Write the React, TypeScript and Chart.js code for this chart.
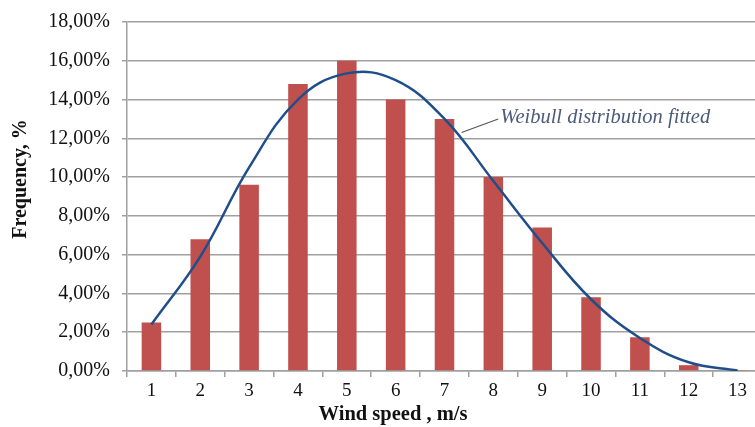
import React, { useEffect, useRef } from "react";
import { Chart, registerables } from "chart.js";

Chart.register(...registerables);

const categories = ["1", "2", "3", "4", "5", "6", "7", "8", "9", "10", "11", "12", "13"];
const frequencyBars = [2.5, 6.8, 9.6, 14.8, 16.0, 14.0, 13.0, 10.0, 7.4, 3.8, 1.74, 0.3, 0.05];
const weibullFit = [2.4, 5.9, 10.5, 14.0, 15.35, 15.0, 13.0, 9.8, 6.6, 3.7, 1.7, 0.45, 0.03];
const yTicksMax = 18;
const yStep = 2;
const annotationText = "Weibull distribution fitted";
const xTitle = "Wind speed , m/s";
const yTitle = "Frequency, %";

const FONT = "'Liberation Serif', 'Times New Roman', serif";

const overlayPlugin = {
  id: "overlay",
  afterDraw(chart: any) {
    const ctx = chart.ctx as CanvasRenderingContext2D;
    const x = chart.scales.x;
    const y = chart.scales.y;
    ctx.save();
    // leader line
    ctx.strokeStyle = "#555555";
    ctx.lineWidth = 1.2;
    ctx.beginPath();
    ctx.moveTo(x.getPixelForValue(6.35), y.getPixelForValue(12.3));
    ctx.lineTo(x.getPixelForValue(7.1), y.getPixelForValue(13.0));
    ctx.stroke();
    // annotation text
    ctx.fillStyle = "#4d5a7c";
    ctx.font = `italic 20.5px ${FONT}`;
    ctx.textBaseline = "middle";
    ctx.textAlign = "left";
    ctx.fillText(annotationText, x.getPixelForValue(7.14), y.getPixelForValue(13.05));
    // axis titles
    ctx.fillStyle = "#111111";
    ctx.font = `bold 20.5px ${FONT}`;
    ctx.textAlign = "center";
    ctx.fillText(xTitle, 393, 415);
    ctx.font = `bold 20px ${FONT}`;
    ctx.translate(21, 179);
    ctx.rotate(-Math.PI / 2);
    ctx.fillText(yTitle, 0, 0);
    ctx.restore();
  },
};

export default function App() {
  const ref = useRef<HTMLCanvasElement | null>(null);
  useEffect(() => {
    if (!ref.current) return;
    const chart = new Chart(ref.current, {
      type: "bar",
      data: {
        labels: categories,
        datasets: [
          {
            type: "line",
            data: weibullFit,
            borderColor: "#1f4e8a",
            borderWidth: 2.5,
            pointRadius: 0,
            tension: 0.4,
            fill: false,
            order: 0,
          } as any,
          {
            type: "bar",
            data: frequencyBars,
            backgroundColor: "#c0504d",
            barPercentage: 0.4,
            categoryPercentage: 1,
            order: 1,
          },
        ],
      },
      options: {
        animation: false,
        responsive: false,
        layout: { padding: { left: 0, right: 13, top: 14, bottom: 0 } },
        plugins: { legend: { display: false }, tooltip: { enabled: false } },
        scales: {
          x: {
            offset: true,
            grid: {
              offset: true,
              drawOnChartArea: false,
              drawTicks: true,
              tickLength: 6,
              color: "#a0a0a0",
              lineWidth: 1.5,
            },
            border: { color: "#a0a0a0", width: 1.5 },
            ticks: {
              color: "#111111",
              font: { family: FONT, size: 19 },
              padding: 3,
              maxRotation: 0,
            },
            afterFit(scale: any) {
              scale.height = 56;
            },
          },
          y: {
            min: 0,
            max: yTicksMax,
            grid: {
              color: "#a0a0a0",
              lineWidth: 1.5,
              tickLength: 5,
            },
            border: { color: "#a0a0a0", width: 1.5 },
            ticks: {
              stepSize: yStep,
              color: "#111111",
              font: { family: FONT, size: 20, lineHeight: 1 },
              padding: 12,
              callback: (v: any) => Number(v).toFixed(2).replace(".", ",") + "%",
            },
            afterFit(scale: any) {
              scale.width = 127;
            },
          },
        },
      },
      plugins: [overlayPlugin],
    });
    return () => chart.destroy();
  }, []);
  return (
    <div
      style={{
        position: "absolute",
        left: 0,
        top: 0,
        width: 755,
        height: 427,
        overflow: "hidden",
        background: "#ffffff",
      }}
    >
      <canvas ref={ref} width={775} height={427} style={{ display: "block" }} />
    </div>
  );
}
